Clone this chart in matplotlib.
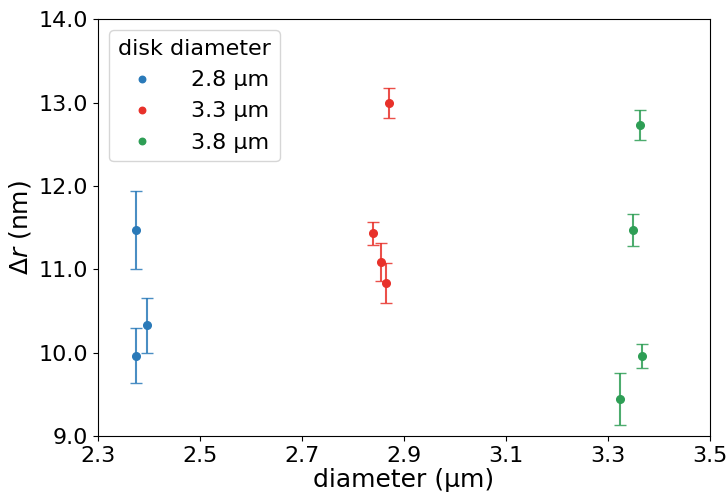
import matplotlib
matplotlib.use("Agg")
import matplotlib.pyplot as plt

labels = ["2.8 µm", "3.3 µm", "3.8 µm"]
colors = ["#2a7ab9", "#e8312a", "#2e9e55"]

x_blue = [2.3745, 2.3745, 2.396]
y_blue = [11.47, 9.96, 10.33]
e_blue = [0.47, 0.33, 0.33]

x_red = [2.8706, 2.839, 2.855, 2.865]
y_red = [12.99, 11.43, 11.09, 10.83]
e_red = [0.18, 0.14, 0.23, 0.24]

x_green = [3.3627, 3.349, 3.367, 3.3235]
y_green = [12.73, 11.47, 9.96, 9.44]
e_green = [0.18, 0.19, 0.14, 0.31]

xs = [x_blue, x_red, x_green]
ys = [y_blue, y_red, y_green]
es = [e_blue, e_red, e_green]

fig = plt.figure(figsize=(7.26, 4.92), dpi=100)
ax = fig.add_axes([0.135, 0.114, 0.843, 0.847])

for x, y, e, c, lab in zip(xs, ys, es, colors, labels):
    ax.errorbar(x, y, yerr=e, fmt="none", ecolor=c, capsize=4, elinewidth=1.5, alpha=0.85)
    ax.plot(x, y, "o", color=c, markersize=5.5, label=lab, linestyle="none")

ax.set_xlim(2.3, 3.5)
ax.set_ylim(9.0, 14.0)
ax.set_xticks([2.3, 2.5, 2.7, 2.9, 3.1, 3.3, 3.5])
ax.set_yticks([9.0, 10.0, 11.0, 12.0, 13.0, 14.0])
ax.set_xticklabels(["2.3", "2.5", "2.7", "2.9", "3.1", "3.3", "3.5"])
ax.set_yticklabels(["9.0", "10.0", "11.0", "12.0", "13.0", "14.0"])
ax.tick_params(labelsize=16)
ax.set_xlabel("diameter (µm)", fontsize=18, labelpad=2)
ax.set_ylabel(r"$\Delta r$ (nm)", fontsize=18)

leg = ax.legend(title="disk diameter", loc="upper left", fontsize=16, title_fontsize=16,
                markerscale=0.85, handletextpad=1.2)

fig.savefig("out.png", dpi=100)
